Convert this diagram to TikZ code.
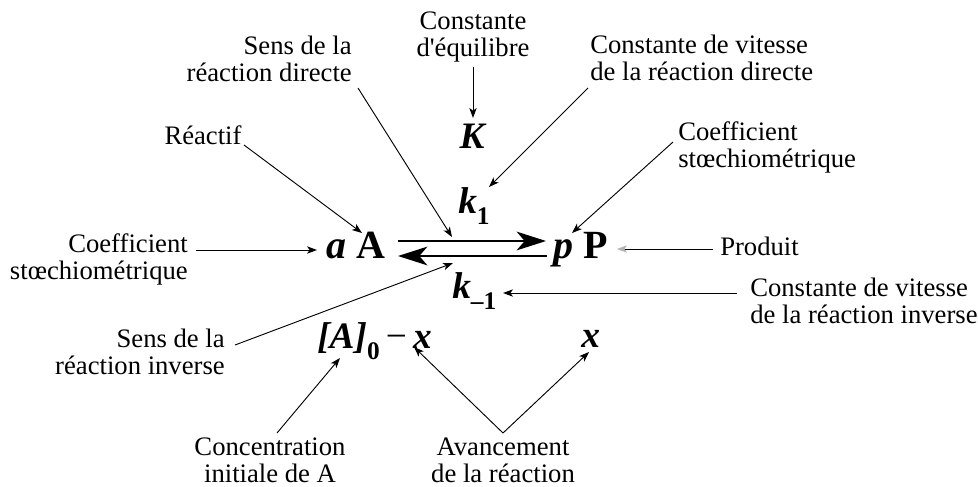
\documentclass[tikz,border=0pt]{standalone}
\usepackage{fontspec}
\setmainfont{Liberation Serif}
\usetikzlibrary{arrows.meta}
\newcommand{\subsc}[1]{\raisebox{-0.3em}{\fontsize{19}{19}\selectfont\bfseries\upshape #1}}
\begin{document}
\begin{tikzpicture}[x=0.75pt,y=-0.75pt,
  lbl/.style={inner sep=0pt, font=\fontsize{20}{20.25}\selectfont},
  frm/.style={inner sep=0pt, font=\fontsize{28}{28}\selectfont\bfseries\itshape},
  big/.style={inner sep=0pt, font=\fontsize{30}{30}\selectfont\bfseries},
  arr/.style={-{Stealth[length=7.5pt,width=5.5pt,inset=2pt]}, line width=0.7pt},
  garr/.style={-{Stealth[length=7.5pt,width=5.5pt,inset=2pt,color=gray!60]}, line width=0.7pt},
  rxn/.style={-{Stealth[length=22pt,width=14pt,inset=6pt]}, line width=1.7pt}]
\useasboundingbox (0,0) rectangle (978,486);

% labels
\node[lbl, align=center] (eq) at (473,37) {Constante\\d\textquotesingle équilibre};
\node[lbl, align=right, anchor=east] (sdir) at (352,59) {Sens de la\\réaction directe};
\node[lbl, align=left, anchor=west] (kdirl) at (590,58) {Constante de vitesse\\de la réaction directe};
\node[lbl] (reac) at (203,135) {Réactif};
\node[lbl, align=left, anchor=west] (coefr) at (678,147) {Coefficient\\stœchiométrique};
\node[lbl, align=right, anchor=east] (coefl) at (188,259) {Coefficient\\stœchiométrique};
\node[lbl, anchor=west] (prod) at (720,246) {Produit};
\node[lbl, align=left, anchor=west] (kinvl) at (750,301) {Constante de vitesse\\de la réaction inverse};
\node[lbl, align=right, anchor=east] (sinv) at (225,352) {Sens de la\\réaction inverse};
\node[lbl, align=center] (conc) at (270,460) {Concentration\\initiale de A};
\node[lbl, align=center] (avan) at (503,460) {Avancement\\de la réaction};

% formula parts
\node[frm] (K) at (472,136) {K};
\node[frm, anchor=base west] (k1) at (458,213) {k\subsc{1}};
\node[frm, anchor=base west] (km1) at (452,298) {k\subsc{–1}};
\node[big, anchor=base west] (aA) at (326,258) {\textit{a} A};
\node[big, anchor=base west] (pP) at (553,258) {\textit{p} P};
\node[frm, anchor=base west] (A0) at (317,348) {[A]\subsc{0}\,{\mdseries\upshape −}\,x};
\node[frm, anchor=base west] (x) at (581,347) {x};

% reaction arrows
\coordinate (f1) at (398,241); \coordinate (f2) at (546,241);
\coordinate (b1) at (547,256); \coordinate (b2) at (398,256);
\draw[rxn] (f1) -- (f2);
\draw[rxn] (b1) -- (b2);

% connector end points
\coordinate (eqS) at (473,67);   \coordinate (KN) at (473,118);
\coordinate (sdirS) at (358,88); \coordinate (fmid) at (452,237);
\coordinate (kdirS) at (588,88); \coordinate (k1N) at (489,187);
\coordinate (reacS) at (244,145); \coordinate (aAN) at (362,233);
\coordinate (coefrS) at (673,142); \coordinate (pN) at (572,233);
\coordinate (coeflE) at (196,250); \coordinate (aW) at (317,250);
\coordinate (prodW) at (713,249); \coordinate (PE) at (617,249);
\coordinate (kinvW) at (737,293); \coordinate (km1E) at (503,293);
\coordinate (sinvE) at (235,345); \coordinate (bmid) at (453,263);
\coordinate (concN) at (277,433); \coordinate (A0S) at (340,358);
\coordinate (avanN) at (503,433); \coordinate (A0x) at (414,347); \coordinate (xS) at (589,352);

\draw[arr] (eqS) -- (KN);
\draw[arr] (sdirS) -- (fmid);
\draw[arr] (kdirS) -- (k1N);
\draw[arr] (reacS) -- (aAN);
\draw[arr] (coefrS) -- (pN);
\draw[arr] (coeflE) -- (aW);
\draw[garr] (prodW) -- (PE);
\draw[arr] (kinvW) -- (km1E);
\draw[arr] (sinvE) -- (bmid);
\draw[arr] (concN) -- (A0S);
\draw[arr] (avanN) -- (A0x);
\draw[arr] (avanN) -- (xS);
\end{tikzpicture}
\end{document}
